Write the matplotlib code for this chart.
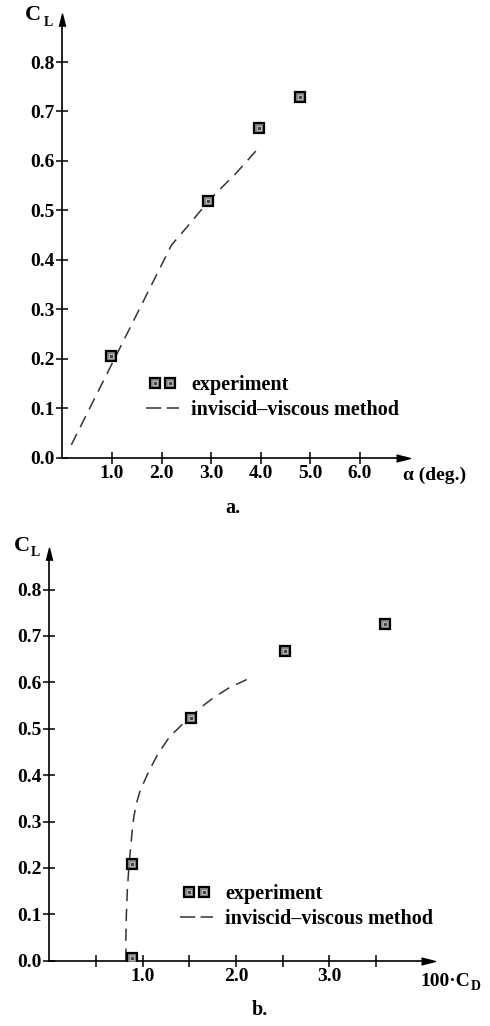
import numpy as np
import matplotlib
matplotlib.use('Agg')
import matplotlib.pyplot as plt
from matplotlib.lines import Line2D
from matplotlib.legend_handler import HandlerTuple, HandlerLine2D

plt.rcParams['font.family'] = ['Liberation Serif', 'DejaVu Serif']
plt.rcParams['font.weight'] = 'bold'

# a. lift vs angle of attack
alpha_exp = [0.98, 2.94, 3.96, 4.80]
cl_exp_a = [0.206, 0.519, 0.667, 0.730]
alpha_calc = [0.18, 0.5, 1.0, 1.5, 2.0, 2.2, 2.5, 3.0, 3.5, 3.9]
cl_calc_a = [0.026, 0.09, 0.19, 0.29, 0.39, 0.43, 0.465, 0.525, 0.575, 0.62]

# b. drag polar
cd_exp = [0.88, 0.89, 1.52, 2.52, 3.60]
cl_exp_b = [0.005, 0.208, 0.524, 0.668, 0.726]
cd_calc = [0.82, 0.82, 0.825, 0.835, 0.848, 0.862, 0.876, 0.89, 0.905, 0.93,
           0.97, 1.06, 1.167, 1.29, 1.418, 1.525, 1.668, 1.775, 1.917, 2.115]
cl_calc_b = [0.0, 0.05, 0.10, 0.15, 0.19, 0.225, 0.255, 0.285, 0.31, 0.337,
             0.365, 0.406, 0.447, 0.483, 0.508, 0.528, 0.553, 0.569, 0.587, 0.606]

cl_ticks = [0.0, 0.1, 0.2, 0.3, 0.4, 0.5, 0.6, 0.7, 0.8]
alpha_ticks = [1.0, 2.0, 3.0, 4.0, 5.0, 6.0]
cd_ticks = [1.0, 2.0, 3.0]
cd_minor = [0.5, 1.5, 2.5, 3.5]

W, H = 490, 1026
fig = plt.figure(figsize=(W / 100, H / 100), dpi=100)


def px_axes(x0, y0, xlim, ylim, sx, sy):
    # origin in pixels (from top-left), scale in px per unit
    w = (xlim[1] - xlim[0]) * sx
    h = (ylim[1] - ylim[0]) * sy
    ax = fig.add_axes([x0 / W, 1 - y0 / H, w / W, h / H])
    ax.set_xlim(*xlim)
    ax.set_ylim(*ylim)
    ax.patch.set_alpha(0)
    for s in ['top', 'right']:
        ax.spines[s].set_visible(False)
    for s in ['left', 'bottom']:
        ax.spines[s].set_linewidth(1.2)
    ax.tick_params(direction='inout', length=9, width=1.1, labelsize=14)
    ax.tick_params(axis='x', pad=1)
    ax.tick_params(axis='y', pad=1)
    ax.set_yticks(cl_ticks)
    ax.set_yticklabels(['%.1f' % v for v in cl_ticks])
    xarrow = [(-1, -0.5), (1, 0), (-1, 0.5)]
    yarrow = [(-0.5, -1), (0, 1), (0.5, -1)]
    ax.plot(1, 0, marker=xarrow, ms=10, color='k', transform=ax.transAxes, clip_on=False)
    ax.plot(0, 1, marker=yarrow, ms=9, color='k', transform=ax.transAxes, clip_on=False)
    return ax


OUTER = dict(ls='none', marker='s', ms=7.5, mfc='#8a8a8a', mec='k', mew=1.6)
INNER = dict(ls='none', marker='s', ms=2.6, mfc='#444444', mec='#c8c8c8', mew=0.6)
DASH = dict(color='#333333', lw=1.1)


def exp_marks(ax, x, y):
    ax.plot(x, y, zorder=4, **OUTER)
    ax.plot(x, y, zorder=5, **INNER)


def calc_line(ax, x, y):
    ax.plot(x, y, dashes=(8, 5), zorder=3, **DASH)


def add_legend(ax, anchor):
    h1 = Line2D([], [], **OUTER)
    h2 = Line2D([], [], **INNER)
    h3 = Line2D([], [], dashes=(10, 3.5), **DASH)
    hmap = {tuple: HandlerTuple(ndivide=1),
            h1: HandlerLine2D(marker_pad=0.45),
            h2: HandlerLine2D(marker_pad=0.45),
            h3: HandlerLine2D(marker_pad=0)}
    ax.legend([(h1, h2), h3], ['experiment', 'inviscid\u2013viscous method'],
              handler_map=hmap, numpoints=2,
              loc='center left', bbox_to_anchor=anchor, frameon=False,
              borderpad=0, borderaxespad=0, handlelength=1.65, handletextpad=0.6,
              labelspacing=0.25, prop={'size': 14.5, 'weight': 'bold'})


def ftext(x, y, s, **kw):
    fig.text(x / W, 1 - y / H, s, **kw)


# panel a
ax1 = px_axes(62.4, 457.7, (0, 6.87), (0, 0.885), 49.6, 494.6)
ax1.set_xticks(alpha_ticks)
ax1.set_xticklabels(['%.1f' % v for v in alpha_ticks])
calc_line(ax1, alpha_calc, cl_calc_a)
exp_marks(ax1, alpha_exp, cl_exp_a)
add_legend(ax1, (0.245, 0.137))

# panel b
ax2 = px_axes(49.4, 960.7, (0, 4.06), (0, 0.877), 93.3, 464.0)
ax2.set_xticks(cd_ticks)
ax2.set_xticklabels(['%.1f' % v for v in cd_ticks])
ax2.set_xticks(cd_minor, minor=True)
ax2.tick_params(axis='x', which='minor', direction='inout', length=9, width=1.1)
calc_line(ax2, cd_calc, cl_calc_b)
exp_marks(ax2, cd_exp, cl_exp_b)
add_legend(ax2, (0.344, 0.133))

# axis labels
ftext(33, 15, 'C', fontsize=16, ha='center', va='center')
ftext(48.5, 23, 'L', fontsize=10, ha='center', va='center')
ftext(403, 475, '\u03b1 (deg.)', fontsize=14, ha='left', va='center')
ftext(233, 508, 'a.', fontsize=14.5, ha='center', va='center')

ftext(22, 546, 'C', fontsize=16, ha='center', va='center')
ftext(35, 552, 'L', fontsize=10, ha='center', va='center')
ftext(470, 981, '100\u00b7C', fontsize=14, ha='right', va='center')
ftext(471, 987, 'D', fontsize=10, ha='left', va='center')
ftext(260, 1010, 'b.', fontsize=14.5, ha='center', va='center')

fig.savefig('out.png', dpi=100)
